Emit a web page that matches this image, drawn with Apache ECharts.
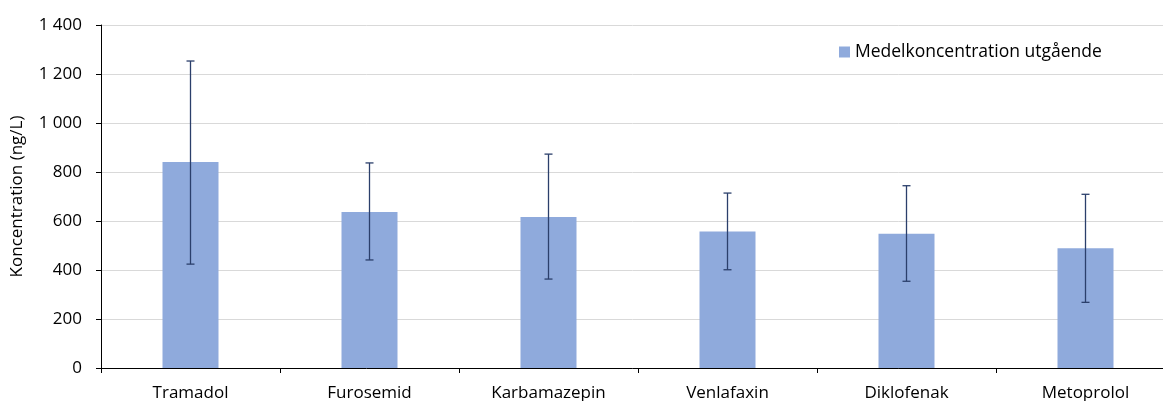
<!DOCTYPE html>
<html>
<head>
<meta charset="utf-8">
<script src="https://cdn.jsdelivr.net/npm/echarts@6/dist/echarts.min.js"></script>
<style>
  html, body { margin: 0; padding: 0; background: #fff; }
  #chart { width: 1163px; height: 401px; }
</style>
</head>
<body>
<div id="chart"></div>
<script>
// substanser
const categories = ['Tramadol', 'Furosemid', 'Karbamazepin', 'Venlafaxin', 'Diklofenak', 'Metoprolol']
// medelkoncentration utgående (ng/L)
const meanValues = [841, 637, 616, 557, 548, 489]
// felstaplar, nedre och övre gräns
const errLow = [424, 441, 363, 401, 354, 268]
const errHigh = [1253, 837, 873, 714, 744, 709]
const yTicks = { min: 0, max: 1400, interval: 200 }

const font = '"Open Sans", "Noto Sans", sans-serif'
const chart = echarts.init(document.getElementById('chart'))

chart.setOption({
  animation: false,
  textStyle: { fontFamily: font },
  grid: {
    top: 25,
    left: 101,
    width: 1074,
    bottom: 33,
    outerBoundsMode: 'none'
  },
  legend: {
    data: ['Medelkoncentration utgående'],
    top: 38,
    left: 834,
    itemWidth: 11,
    itemHeight: 11,
    itemGap: 6,
    icon: 'rect',
    textStyle: { fontSize: 17.5, color: '#000', fontFamily: font }
  },
  xAxis: {
    type: 'category',
    data: categories,
    axisLine: { lineStyle: { color: '#000', width: 1 } },
    axisTick: { show: true, length: 5, lineStyle: { color: '#000' } },
    axisLabel: { fontSize: 17, color: '#000', margin: 17 }
  },
  yAxis: {
    type: 'value',
    min: yTicks.min,
    max: yTicks.max,
    interval: yTicks.interval,
    name: 'Koncentration (ng/L)',
    nameLocation: 'middle',
    nameGap: 75,
    nameTextStyle: { fontSize: 17, color: '#000' },
    axisLine: { show: true, lineStyle: { color: '#000', width: 1 } },
    axisTick: { show: true, length: 5, lineStyle: { color: '#000' } },
    axisLabel: {
      fontSize: 17,
      color: '#000',
      margin: 19,
      formatter: v => String(v).replace(/\B(?=(\d{3})+(?!\d))/g, ' ')
    },
    splitLine: { lineStyle: { color: '#d9d9d9', width: 1 } }
  },
  series: [{
    name: 'Medelkoncentration utgående',
    type: 'bar',
    barWidth: 56,
    itemStyle: { color: '#8faadc' },
    data: meanValues
  }, {
    name: 'fel',
    type: 'custom',
    z: 10,
    renderItem(params, api) {
      const i = api.value(0)
      const low = api.coord([i, api.value(1)])
      const high = api.coord([i, api.value(2)])
      const half = 4
      const style = { stroke: '#2b3f6b', lineWidth: 1.3 }
      return {
        type: 'group',
        children: [
          { type: 'line', shape: { x1: high[0], y1: high[1], x2: low[0], y2: low[1] }, style },
          { type: 'line', shape: { x1: high[0] - half, y1: high[1], x2: high[0] + half, y2: high[1] }, style },
          { type: 'line', shape: { x1: low[0] - half, y1: low[1], x2: low[0] + half, y2: low[1] }, style }
        ]
      }
    },
    encode: { x: 0, y: [1, 2] },
    data: categories.map((c, i) => [i, errLow[i], errHigh[i]])
  }]
})
</script>
</body>
</html>
